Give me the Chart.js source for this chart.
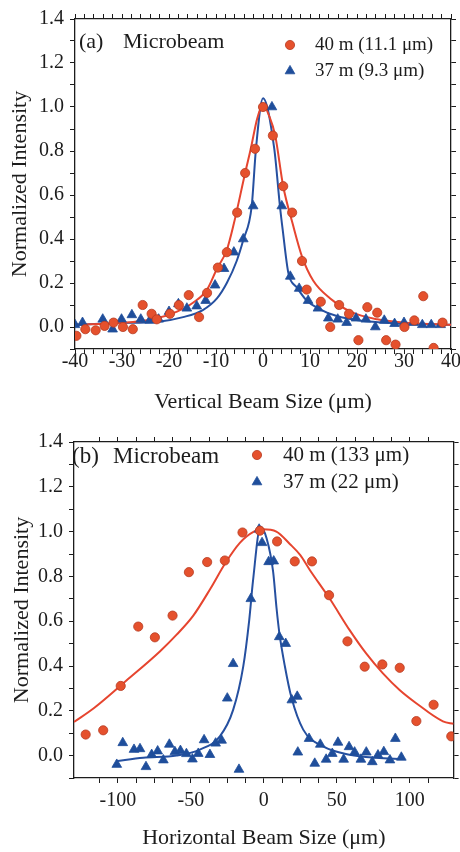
<!DOCTYPE html>
<html>
<head>
<meta charset="utf-8">
<title>Microbeam profiles</title>
<script src="https://cdn.jsdelivr.net/npm/chart.js@4.4.0/dist/chart.umd.min.js"></script>
<style>
  html, body { margin: 0; padding: 0; background: #fff; }
  #wrap { position: relative; width: 460px; height: 852px; }
  canvas { position: absolute; left: 0; display: block; }
  #vert { top: 0; }
  #horiz { top: 426px; }
</style>
</head>
<body>
<div id="wrap">
  <canvas id="vert" width="460" height="426"></canvas>
  <canvas id="horiz" width="460" height="426"></canvas>
</div>
<script>
// ---- (a) vertical beam size, measured points ----
const vertX40 = [-39.7, -37.8, -35.6, -33.7, -31.8, -29.8, -27.7, -25.6, -23.7, -22.6, -19.8, -17.9, -15.8, -13.6, -11.9, -9.6, -7.7, -5.5, -3.8, -1.7, 0, 2.1, 4.3, 6.2, 8.3, 9.3, 12.3, 14.3, 16.2, 18.3, 20.3, 22.2, 24.3, 26.2, 28.2, 30.1, 32.2, 34.1, 36.3, 38.2];
const vertY40 = [-0.04, -0.01, -0.015, 0.005, 0.02, 0.0, -0.01, 0.10, 0.06, 0.035, 0.06, 0.10, 0.145, 0.045, 0.155, 0.27, 0.34, 0.52, 0.70, 0.81, 1.0, 0.87, 0.64, 0.52, 0.30, 0.17, 0.115, 0.0, 0.10, 0.06, -0.06, 0.09, 0.065, -0.06, -0.08, 0.0, 0.03, 0.14, -0.095, 0.02];
const vertX37 = [-40, -38.4, -34.1, -32, -30.1, -27.9, -26, -24.1, -22.2, -20, -18, -16.2, -14.1, -12.2, -10.2, -8.3, -6.2, -4.2, -2.1, 1.9, 4.0, 5.8, 7.7, 9.6, 11.7, 13.9, 15.9, 17.8, 19.8, 21.9, 23.9, 25.8, 28, 30, 32, 33.9, 35.8, 37.8];
const vertY37 = [0.01, 0.02, 0.035, -0.01, 0.035, 0.055, 0.035, 0.03, 0.035, 0.07, 0.105, 0.085, 0.095, 0.12, 0.19, 0.265, 0.34, 0.40, 0.55, 1.0, 0.55, 0.23, 0.175, 0.12, 0.085, 0.04, 0.035, 0.02, 0.04, 0.035, 0.0, 0.03, 0.015, 0.02, 0.02, 0.01, 0.01, 0.01];

// (a) fitted profiles
const vertFitX40 = [-40, -30.5, -23.5, -18.3, -14.9, -11.9, -9.8, -7.7, -6.2, -3.8, -2.6, -1.2, 0, 1.3, 2.6, 4.3, 6.3, 8.3, 10.7, 14.3, 18.6, 24.3, 31.4, 40];
const vertFitY40 = [0.01, 0.018, 0.035, 0.07, 0.11, 0.17, 0.265, 0.35, 0.47, 0.70, 0.81, 0.95, 1.01, 0.96, 0.87, 0.64, 0.47, 0.32, 0.21, 0.13, 0.07, 0.035, 0.018, 0.01];
const vertFitX37 = [-40, -30.5, -22.6, -17, -12.8, -9.8, -7.7, -5.6, -4.2, -2.4, -1.5, 0, 2.4, 3.6, 4.2, 5.4, 7.2, 9.3, 11.7, 15.7, 20.6, 27.7, 40];
const vertFitY37 = [0.01, 0.018, 0.023, 0.045, 0.077, 0.13, 0.20, 0.30, 0.395, 0.55, 0.81, 1.04, 0.81, 0.55, 0.44, 0.245, 0.18, 0.12, 0.085, 0.05, 0.03, 0.018, 0.01];

// ---- (b) horizontal beam size, measured points ----
const horizX40 = [-122.0, -110.0, -98.0, -86.0, -74.6, -62.5, -51.3, -38.8, -26.7, -14.6, -2.7, 9.1, 21.2, 33.0, 44.7, 57.3, 69.1, 81.2, 93.1, 104.5, 116.3, 128.4];
const horizY40 = [0.094, 0.113, 0.311, 0.576, 0.528, 0.625, 0.819, 0.864, 0.871, 0.996, 1.004, 0.956, 0.867, 0.867, 0.716, 0.510, 0.397, 0.407, 0.392, 0.154, 0.227, 0.086];
const horizX37 = [-100.7, -96.6, -88.9, -84.8, -80.7, -76.8, -72.7, -68.8, -64.7, -60.9, -57.1, -53.0, -48.9, -44.9, -40.9, -36.9, -33.0, -28.9, -25.0, -21.0, -17.0, -8.9, -3.2, -1.2, 3.3, 6.8, 10.6, 15.0, 19.2, 22.9, 23.3, 31.0, 34.9, 38.7, 42.7, 46.9, 50.8, 54.7, 58.4, 62.2, 66.5, 70.2, 74.3, 78.2, 82.2, 86.4, 90.1, 94.2];
const horizY37 = [-0.04, 0.057, 0.027, 0.03, -0.05, 0.004, 0.02, -0.02, 0.05, 0.017, 0.022, 0.008, -0.016, 0.009, 0.07, 0.004, 0.055, 0.068, 0.256, 0.41, -0.062, 0.70, 1.01, 0.95, 0.865, 0.868, 0.53, 0.50, 0.248, 0.264, 0.015, 0.076, -0.035, 0.05, -0.017, 0.009, 0.059, -0.017, 0.039, 0.015, -0.017, 0.015, -0.028, 0.002, 0.017, -0.02, 0.076, -0.008];

// (b) fitted profiles
const horizFitX40 = [-130, -116.7, -94.1, -71.2, -59.7, -48.3, -36.6, -26.3, -16.4, -6.8, -0.7, 8.6, 17.8, 25.0, 31.4, 45.2, 58.8, 70.1, 81.6, 93.0, 104.4, 122.7, 130];
const horizFitY40 = [0.15, 0.21, 0.335, 0.465, 0.54, 0.625, 0.745, 0.86, 0.95, 1.0, 1.01, 1.0, 0.945, 0.895, 0.83, 0.70, 0.56, 0.456, 0.367, 0.293, 0.234, 0.153, 0.142];
const horizFitX37 = [-101.3, -82.6, -59.7, -43.8, -30.1, -21.0, -14.1, -10.0, -7.4, -2.3, 1.9, 6.4, 8.7, 10.6, 14.4, 18.9, 27.0, 40.6, 58.8, 77.1, 95.3];
const horizFitY37 = [-0.025, -0.01, 0.0, 0.027, 0.086, 0.204, 0.397, 0.604, 0.78, 1.02, 0.97, 0.82, 0.66, 0.55, 0.40, 0.26, 0.116, 0.041, 0.004, -0.01, -0.015];

const vertLabels = ['40 m (11.1 \u03bcm)', '37 m (9.3 \u03bcm)'];
const horizLabels = ['40 m (133 \u03bcm)', '37 m (22 \u03bcm)'];

const RED = '#e5512d';
const RED_EDGE = '#b63b22';
const RED_LINE = '#e6452f';
const BLUE = '#1f4e9b';
const BLUE_LINE = '#2650a0';
const INK = '#1c1c1c';
const SERIF = "'Liberation Serif', 'DejaVu Serif', serif";

function zip(xs, ys) {
  return xs.map((x, i) => ({ x: x, y: ys[i] }));
}

function pointSet(label, xs, ys, style) {
  const red = style === 'circle';
  return {
    label: label,
    data: zip(xs, ys),
    showLine: false,
    pointStyle: style,
    pointRadius: red ? 4.6 : 5.6,
    backgroundColor: red ? RED : BLUE,
    borderColor: red ? RED_EDGE : BLUE,
    borderWidth: 0.8,
    order: 1
  };
}

function fitSet(xs, ys, color) {
  return {
    label: '',
    data: zip(xs, ys),
    showLine: true,
    pointRadius: 0,
    borderColor: color,
    borderWidth: 2,
    cubicInterpolationMode: 'monotone',
    order: 2
  };
}

// draws the panel tag and the key inside the plot frame
const keyPlugin = {
  id: 'panelKey',
  afterDraw(chart, args, o) {
    const ctx = chart.ctx;
    ctx.save();
    ctx.fillStyle = INK;
    ctx.textBaseline = 'middle';
    ctx.textAlign = 'left';
    ctx.font = o.tagSize + 'px ' + SERIF;
    ctx.fillText(o.tag, o.tagX, o.tagY);
    ctx.fillText('Microbeam', o.beamX, o.tagY);
    ctx.font = o.keySize + 'px ' + SERIF;
    o.rows.forEach((row, i) => {
      const ds = chart.data.datasets[i];
      const y = row;
      ctx.fillStyle = ds.backgroundColor;
      ctx.strokeStyle = ds.borderColor;
      ctx.lineWidth = ds.borderWidth;
      ctx.beginPath();
      if (ds.pointStyle === 'circle') {
        ctx.arc(o.markX, y, ds.pointRadius, 0, Math.PI * 2);
      } else {
        const r = ds.pointRadius;
        ctx.moveTo(o.markX, y - r);
        ctx.lineTo(o.markX + r * 0.866, y + r * 0.5);
        ctx.lineTo(o.markX - r * 0.866, y + r * 0.5);
        ctx.closePath();
      }
      ctx.fill();
      ctx.stroke();
      ctx.fillStyle = INK;
      ctx.fillText(ds.label, o.textX, y);
    });
    ctx.restore();
  }
};

function frameAxis(position, min, max, step, size, extra) {
  const horizontal = position === 'bottom' || position === 'top';
  const axis = {
    type: 'linear',
    position: position,
    display: true,
    min: min,
    max: max,
    border: { display: true, color: INK, width: 1.3 },
    grid: { drawOnChartArea: false, drawTicks: true, tickLength: 5, color: INK, lineWidth: 1 },
    ticks: { display: false, stepSize: step, autoSkip: false, maxTicksLimit: 200, maxRotation: 0 },
    afterBuildTicks(scale) {
      scale.ticks = scale.ticks.filter(t => Math.abs(t.value / step - Math.round(t.value / step)) < 1e-6);
    },
    afterFit(scale) {
      if (horizontal) scale.height = size; else scale.width = size;
    }
  };
  return Object.assign(axis, extra || {});
}

function buildChart(id, cfg) {
  const xMain = frameAxis('bottom', cfg.xMin, cfg.xMax, cfg.xStep, cfg.bottom, {
    ticks: {
      display: true, stepSize: cfg.xStep, autoSkip: false, maxTicksLimit: 200, maxRotation: 0,
      padding: cfg.xPad, color: INK,
      font: { family: SERIF, size: 20, lineHeight: 1 },
      callback: v => (Math.abs(v % cfg.xMajor) < 1e-6 ? String(v) : '')
    },
    title: {
      display: true, text: cfg.xTitle, color: INK,
      font: { family: SERIF, size: 22 },
      padding: { top: 0, bottom: cfg.xTitlePad }
    }
  });
  const yMain = frameAxis('left', -0.1, 1.4, 0.1, cfg.left, {
    ticks: {
      display: true, stepSize: 0.1, autoSkip: false, maxTicksLimit: 200,
      padding: 6, color: INK,
      font: { family: SERIF, size: 20, lineHeight: 1 },
      callback: v => {
        const k = Math.round(v * 10);
        return (k >= 0 && k % 2 === 0) ? (k / 10).toFixed(1) : '';
      }
    },
    title: {
      display: true, text: 'Normalized Intensity', color: INK,
      font: { family: SERIF, size: 22 },
      padding: { top: cfg.yTitlePad, bottom: 0 }
    }
  });

  return new Chart(document.getElementById(id), {
    type: 'scatter',
    data: { datasets: cfg.datasets },
    options: {
      responsive: false,
      animation: false,
      events: [],
      layout: { padding: 0 },
      scales: {
        x: xMain,
        x2: frameAxis('top', cfg.xMin, cfg.xMax, cfg.xStep, cfg.top),
        y: yMain,
        y2: frameAxis('right', -0.1, 1.4, 0.1, cfg.right)
      },
      plugins: {
        legend: { display: false },
        tooltip: { enabled: false },
        panelKey: cfg.key
      }
    },
    plugins: [keyPlugin]
  });
}

buildChart('vert', {
  xMin: -40, xMax: 40, xStep: 2, xMajor: 10,
  top: 19, bottom: 77, left: 75, right: 9,
  xPad: -2, xTitlePad: 11, yTitlePad: 7,
  xTitle: 'Vertical Beam Size (\u03bcm)',
  datasets: [
    pointSet(vertLabels[0], vertX40, vertY40, 'circle'),
    pointSet(vertLabels[1], vertX37, vertY37, 'triangle'),
    fitSet(vertFitX40, vertFitY40, RED_LINE),
    fitSet(vertFitX37, vertFitY37, BLUE_LINE)
  ],
  key: {
    tag: '(a)', tagX: 79, tagY: 42, beamX: 123, tagSize: 22,
    keySize: 19, markX: 290, textX: 315, rows: [45, 71]
  }
});

buildChart('horiz', {
  xMin: -130, xMax: 130, xStep: 12.5, xMajor: 50,
  top: 12, bottom: 74, left: 74, right: 6,
  xPad: 8, xTitlePad: 1, yTitlePad: 9,
  xTitle: 'Horizontal Beam Size (\u03bcm)',
  datasets: [
    pointSet(horizLabels[0], horizX40, horizY40, 'circle'),
    pointSet(horizLabels[1], horizX37, horizY37, 'triangle'),
    fitSet(horizFitX40, horizFitY40, RED_LINE),
    fitSet(horizFitX37, horizFitY37, BLUE_LINE)
  ],
  key: {
    tag: '(b)', tagX: 72, tagY: 31, beamX: 113, tagSize: 23,
    keySize: 21, markX: 257, textX: 283, rows: [29, 56]
  }
});
</script>
</body>
</html>
